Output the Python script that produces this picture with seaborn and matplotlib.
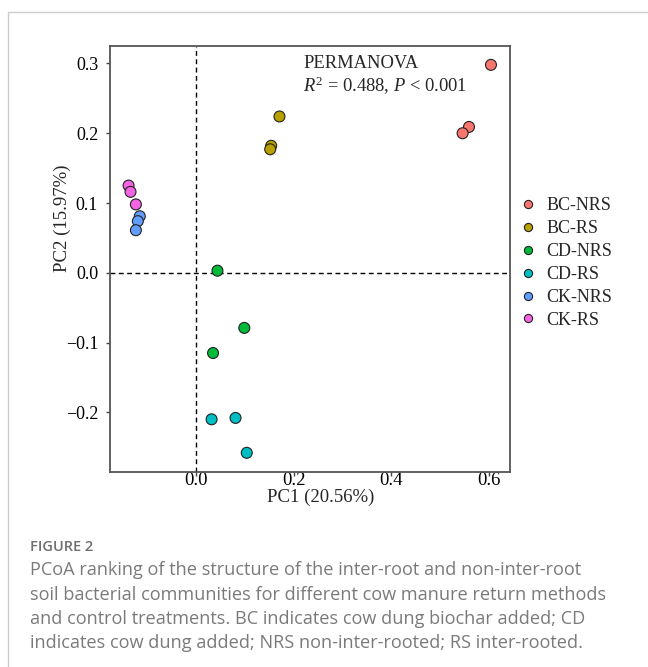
import matplotlib
matplotlib.use("Agg")
import matplotlib.pyplot as plt
from matplotlib.lines import Line2D
import pandas as pd
import seaborn as sns

# PCoA sample scores (three replicates per treatment)
groups = ["BC-NRS"] * 3 + ["BC-RS"] * 3 + ["CD-NRS"] * 3 + ["CD-RS"] * 3 + ["CK-NRS"] * 3 + ["CK-RS"] * 3
pc1 = [0.604, 0.559, 0.546,
       0.171, 0.154, 0.152,
       0.044, 0.099, 0.035,
       0.032, 0.081, 0.104,
       -0.115, -0.119, -0.123,
       -0.138, -0.134, -0.123]
pc2 = [0.298, 0.209, 0.200,
       0.224, 0.182, 0.177,
       0.003, -0.079, -0.115,
       -0.210, -0.208, -0.258,
       0.081, 0.074, 0.061,
       0.125, 0.116, 0.098]
hue_order = ["BC-NRS", "BC-RS", "CD-NRS", "CD-RS", "CK-NRS", "CK-RS"]
colors = ["#F8766D", "#B79F00", "#00BA38", "#00BFC4", "#619CFF", "#F564E3"]
xticks = [0.0, 0.2, 0.4, 0.6]
yticks = [-0.2, -0.1, 0.0, 0.1, 0.2, 0.3]

df = pd.DataFrame({"PC1": pc1, "PC2": pc2, "group": groups})

sns.set_style("white")
plt.rcParams["font.family"] = ["Liberation Serif", "DejaVu Serif"]
plt.rcParams["mathtext.fontset"] = "custom"
plt.rcParams["mathtext.rm"] = "Liberation Serif"
plt.rcParams["mathtext.it"] = "Liberation Serif:italic"

W, H = 648, 667
fig = plt.figure(figsize=(W / 100, H / 100), dpi=100)
ax = fig.add_axes([110 / W, 1 - 472 / H, 400 / W, 426 / H])

ax.axhline(0, color="black", lw=1.0, ls=(0, (3.5, 2.5)), zorder=1)
ax.axvline(0, color="black", lw=1.0, ls=(0, (3.5, 2.5)), zorder=1)

sns.scatterplot(data=df, x="PC1", y="PC2", hue="group", hue_order=hue_order,
                palette=dict(zip(hue_order, colors)), s=62,
                edgecolor="#222222", linewidth=0.8, ax=ax, zorder=3)

ax.set_xlim(-0.176, 0.643)
ax.set_ylim(-0.2855, 0.325)
ax.set_xticks(xticks)
ax.set_yticks(yticks)
ax.set_xticklabels([f"{v:.1f}" for v in xticks])
ax.set_yticklabels([f"{v:.1f}".replace("-", "\u2212") for v in yticks])
ax.tick_params(axis="both", direction="out", length=3, width=1.0,
               color="#444444", labelcolor="black", bottom=True, left=True)
ax.tick_params(axis="x", labelsize=13.5, pad=-3)
ax.tick_params(axis="y", labelsize=13, pad=5.5)
for sp in ax.spines.values():
    sp.set_color("#555555")
    sp.set_linewidth(1.3)

ax.set_xlabel("PC1 (20.56%)", fontsize=13.5)
ax.set_ylabel("PC2 (15.97%)", fontsize=13.5)
ax.xaxis.set_label_coords(0.5275, -0.040)
ax.yaxis.set_label_coords(-0.0975, 0.596)

ax.text(0.4825, 0.958, "PERMANOVA", transform=ax.transAxes,
        fontsize=13.3, va="center", ha="left")
ax.text(0.4825, 0.906, r"$R^2$ = 0.488, $P$ < 0.001", transform=ax.transAxes,
        fontsize=13.3, va="center", ha="left")

sns.move_legend(ax, "upper left", bbox_to_anchor=(519 / W, 1 - 197 / H),
                bbox_transform=fig.transFigure, frameon=False, title=None,
                fontsize=13, markerscale=0.75, handlelength=1.0,
                handletextpad=0.5, labelspacing=0.33, borderpad=0,
                borderaxespad=0)

# page frame (left and top rules)
fig.add_artist(Line2D([8 / W, 8 / W, 1.0], [0.0, 1 - 12 / H, 1 - 12 / H],
                      transform=fig.transFigure, color="#cccccc", lw=1.0))

cap_font = ["Open Sans", "DejaVu Sans"]
cap_x = 30 / W
fig.text(cap_x, 1 - 547 / H, "FIGURE 2", family=cap_font, fontsize=10.5,
         color="#6e6e6e", va="center", ha="left", weight="semibold")
caption = [
    "PCoA ranking of the structure of the inter-root and non-inter-root",
    "soil bacterial communities for different cow manure return methods",
    "and control treatments. BC indicates cow dung biochar added; CD",
    "indicates cow dung added; NRS non-inter-rooted; RS inter-rooted.",
]
for i, line in enumerate(caption):
    fig.text(cap_x, 1 - (570 + 24.5 * i) / H, line, family=cap_font,
             fontsize=13.1, color="#7a7a7a", va="center", ha="left")

fig.savefig("out.png", dpi=100)
